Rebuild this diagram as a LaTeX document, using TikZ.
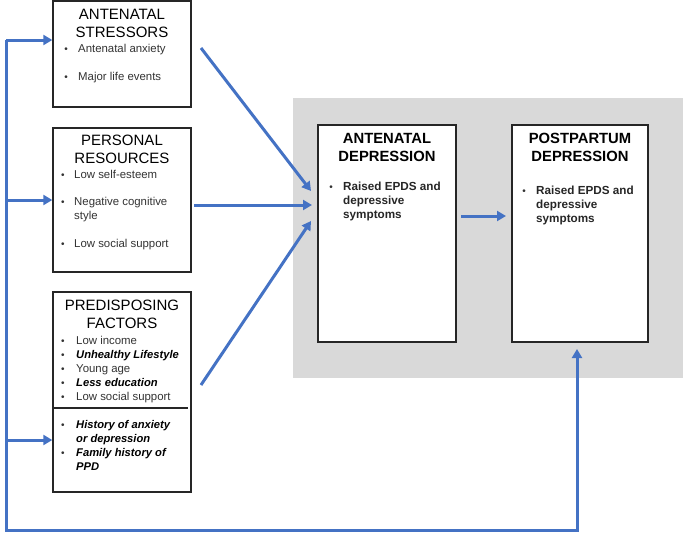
\documentclass[tikz,border=0pt]{standalone}
\usepackage{fontspec}
\setmainfont{Liberation Sans}
\usetikzlibrary{arrows.meta}
\definecolor{flowblue}{HTML}{4472C4}
\definecolor{bodytxt}{HTML}{333333}
\definecolor{bggray}{HTML}{D9D9D9}
\begin{document}
\begin{tikzpicture}[x=1pt,y=-1pt,
  box/.style={draw=black!85,line width=1.4pt,fill=white,inner sep=0pt},
  title/.style={anchor=base,yshift=-5.3pt,font=\fontsize{15}{16}\selectfont,text=black,inner sep=0pt},
  btitle/.style={anchor=base,yshift=-5.3pt,font=\bfseries\fontsize{14.8}{16}\selectfont,text=black,inner sep=0pt},
  itm/.style={anchor=base west,yshift=-4pt,font=\fontsize{11.4}{12}\selectfont,text=bodytxt,inner sep=0pt},
  bitm/.style={anchor=base west,yshift=-4pt,font=\bfseries\itshape\fontsize{11.2}{12}\selectfont,text=black,inner sep=0pt},
  ritm/.style={anchor=base west,yshift=-4pt,font=\bfseries\fontsize{11.7}{12}\selectfont,text=black!85,inner sep=0pt},
  bul/.style={anchor=base,yshift=-4pt,font=\fontsize{10}{10}\selectfont,text=bodytxt,inner sep=0pt},
  flow/.style={draw=flowblue,line width=3pt,line join=miter},
  arr/.style={flow,-{Triangle[length=9pt,width=10pt]}}]
\useasboundingbox (0,0) rectangle (685,533);

% grey panel
\node[fill=bggray,minimum width=390pt,minimum height=280pt,inner sep=0pt] (panel) at (488,238) {};

% boxes
\node[box,minimum width=138pt,minimum height=106pt] (as) at (122,54) {};
\node[box,minimum width=138pt,minimum height=144pt] (pr) at (122,200) {};
\node[box,minimum width=138pt,minimum height=200pt] (pf) at (122,392) {};
\node[box,minimum width=138pt,minimum height=217pt] (ad) at (387,233.5) {};
\node[box,minimum width=136pt,minimum height=217pt] (pd) at (580,233.5) {};

% divider in predisposing box
\coordinate (divL) at (53,408);
\coordinate (divR) at (188,408);
\draw[black!85,line width=1.3pt] (divL) -- (divR);

% antenatal stressors
\node[title] (asT1) at (122,14) {ANTENATAL};
\node[title] (asT2) at (122,32) {STRESSORS};
\node[bul] (asB1) at (66,48) {•};
\node[itm] (asI1) at (78,48) {Antenatal anxiety};
\node[bul] (asB2) at (66,76) {•};
\node[itm] (asI2) at (78,76) {Major life events};

% personal resources
\node[title] (prT1) at (122,140) {PERSONAL};
\node[title] (prT2) at (122,158) {RESOURCES};
\node[bul] (prB1) at (63,174) {•};
\node[itm] (prI1) at (74,174) {Low self-esteem};
\node[bul] (prB2) at (63,201) {•};
\node[itm] (prI2) at (74,201) {Negative cognitive};
\node[itm] (prI2b) at (74,215) {style};
\node[bul] (prB3) at (63,243) {•};
\node[itm] (prI3) at (74,243) {Low social support};

% predisposing factors
\node[title] (pfT1) at (122,305) {PREDISPOSING};
\node[title] (pfT2) at (122,323) {FACTORS};
\node[bul] (pfB1) at (63,340) {•};
\node[itm] (pfI1) at (76,340) {Low income};
\node[bul] (pfB2) at (63,354) {•};
\node[bitm] (pfI2) at (76,354) {Unhealthy Lifestyle};
\node[bul] (pfB3) at (63,368) {•};
\node[itm] (pfI3) at (76,368) {Young age};
\node[bul] (pfB4) at (63,382) {•};
\node[bitm] (pfI4) at (76,382) {Less education};
\node[bul] (pfB5) at (63,396) {•};
\node[itm] (pfI5) at (76,396) {Low social support};
\node[bul] (pfB6) at (63,424) {•};
\node[bitm] (pfI6) at (76,424) {History of anxiety};
\node[bitm] (pfI6b) at (76,438) {or depression};
\node[bul] (pfB7) at (63,452) {•};
\node[bitm] (pfI7) at (76,452) {Family history of};
\node[bitm] (pfI7b) at (76,466) {PPD};

% antenatal depression
\node[btitle] (adT1) at (387,138) {ANTENATAL};
\node[btitle] (adT2) at (387,156) {DEPRESSION};
\node[bul] (adB1) at (331,186) {•};
\node[ritm] (adI1) at (343,186) {Raised EPDS and};
\node[ritm] (adI1b) at (343,200) {depressive};
\node[ritm] (adI1c) at (343,214) {symptoms};

% postpartum depression
\node[btitle] (pdT1) at (580,138) {POSTPARTUM};
\node[btitle] (pdT2) at (580,156) {DEPRESSION};
\node[bul] (pdB1) at (524,190) {•};
\node[ritm] (pdI1) at (536,190) {Raised EPDS and};
\node[ritm] (pdI1b) at (536,204) {depressive};
\node[ritm] (pdI1c) at (536,218) {symptoms};

% connectors into antenatal depression
\coordinate (s1) at (201,48);
\coordinate (e1) at (311,191);
\coordinate (s2) at (194,205);
\coordinate (e2) at (312,205);
\coordinate (s3) at (201,385);
\coordinate (e3) at (311,221);
\draw[arr] (s1) -- (e1);
\draw[arr] (s2) -- (e2);
\draw[arr] (s3) -- (e3);

% antenatal -> postpartum
\coordinate (s4) at (461,216);
\coordinate (e4) at (506,216);
\draw[arr] (s4) -- (e4);

% feedback loop
\coordinate (top) at (6,40);
\coordinate (mid) at (6,200);
\coordinate (low) at (6,440);
\coordinate (bl) at (6,530);
\coordinate (br) at (577,530);
\coordinate (up) at (577,349);
\draw[arr] (top) -- (bl) -- (br) -- (up);
\draw[arr] (top) -- (as.west |- top);
\draw[arr] (mid) -- (pr.west |- mid);
\draw[arr] (low) -- (pf.west |- low);
\end{tikzpicture}
\end{document}
